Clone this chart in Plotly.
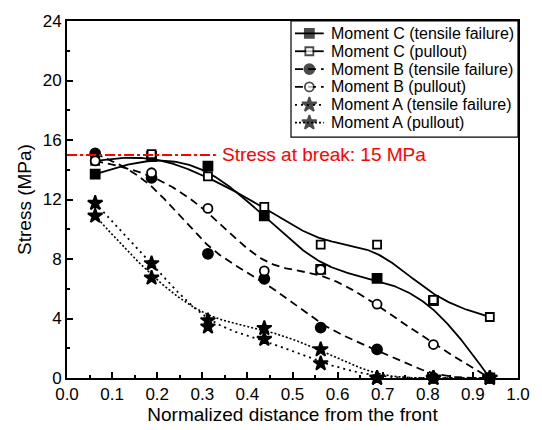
import numpy as np
import plotly.graph_objects as go

# ---- data ----
x_pos = [0.0625, 0.1875, 0.3125, 0.4375, 0.5625, 0.6875, 0.8125, 0.9375]

c_tensile = [13.7, 14.9, 14.25, 10.9, 7.3, 6.7, 5.2, 0.0]
c_pullout = [14.6, 15.05, 13.55, 11.5, 8.96, 8.96, 5.25, 4.1]
b_tensile = [15.1, 13.45, 8.35, 6.67, 3.39, 1.92, 0.0, 0.0]
b_pullout = [14.6, 13.8, 11.4, 7.2, 7.28, 4.96, 2.25, 0.0]
a_tensile = [11.76, 7.7, 3.45, 2.62, 0.98, 0.0, 0.0, 0.0]
a_pullout = [10.9, 6.73, 3.87, 3.35, 1.92, 0.0, 0.0, 0.0]

series_names = ["Moment C (tensile failure)", "Moment C (pullout)",
                "Moment B (tensile failure)", "Moment B (pullout)",
                "Moment A (tensile failure)", "Moment A (pullout)"]
series_values = [c_tensile, c_pullout, b_tensile, b_pullout, a_tensile, a_pullout]

stress_at_break = 15
break_line_end = 0.33
break_label = "Stress at break: 15 MPa"

x_ticks = [0.0, 0.1, 0.2, 0.3, 0.4, 0.5, 0.6, 0.7, 0.8, 0.9, 1.0]
y_ticks = [0, 4, 8, 12, 16, 20, 24]

# ---- styles ----
styles = [
    dict(symbol="square", dash="solid", fill="black", size=9, lw=1.8),
    dict(symbol="square", dash="solid", fill="white", size=8, lw=1.8),
    dict(symbol="circle", dash="8px,5px", fill="black", size=10, lw=1.8),
    dict(symbol="circle", dash="8px,5px", fill="white", size=9, lw=1.8),
    dict(symbol="star", dash="2px,4px", fill="black", size=11, lw=1.8),
    dict(symbol="star", dash="2px,2px", fill="black", size=11, lw=1.6),
]

FONT = "Liberation Sans"

# plot area in pixels (for the overlay used by the legend box)
PL, PR, PT, PB = 67, 522, 14, 380
W, H = 542, 430


def bspline(xs, ys, n=40):
    """Uniform cubic B-spline with clamped ends (Origin-like B-spline connect)."""
    P = np.column_stack([xs, ys]).astype(float)
    P = np.vstack([P[0], P[0], P, P[-1], P[-1]])
    t = np.linspace(0, 1, n)
    b0 = (1 - t) ** 3 / 6
    b1 = (3 * t ** 3 - 6 * t ** 2 + 4) / 6
    b2 = (-3 * t ** 3 + 3 * t ** 2 + 3 * t + 1) / 6
    b3 = t ** 3 / 6
    out = []
    for i in range(len(P) - 3):
        seg = (np.outer(b0, P[i]) + np.outer(b1, P[i + 1]) +
               np.outer(b2, P[i + 2]) + np.outer(b3, P[i + 3]))
        out.append(seg)
    out = np.vstack(out)
    return out[:, 0], out[:, 1]


fig = go.Figure()

for name, vals, st in zip(series_names, series_values, styles):
    sx, sy = bspline(x_pos, vals)
    fig.add_trace(go.Scatter(x=sx, y=sy, mode="lines", showlegend=False, name=name,
                             line=dict(color="black", width=st["lw"], dash=st["dash"]),
                             hoverinfo="skip", cliponaxis=False))
    fig.add_trace(go.Scatter(x=x_pos, y=vals, mode="markers", showlegend=False, name=name,
                             marker=dict(symbol=st["symbol"], size=st["size"], color=st["fill"],
                                         line=dict(color="black", width=1.8)),
                             cliponaxis=False))

# ---- legend box (drawn on a pixel-unit overlay axis) ----
leg_left, leg_top, leg_bottom = 293, PT, 133
row_h = 18.3
row0 = PT + 12.7
samp_x0, samp_x1, text_x = 297, 326, 331

fig.add_shape(type="rect", xref="x2", yref="y2", x0=leg_left, x1=PR, y0=leg_top, y1=leg_bottom,
              line=dict(color="black", width=1.2), fillcolor="white", layer="below")
for i, (name, st) in enumerate(zip(series_names, styles)):
    ry = row0 + i * row_h
    fig.add_trace(go.Scatter(x=[samp_x0, (samp_x0 + samp_x1) / 2, samp_x1], y=[ry, ry, ry],
                             xaxis="x2", yaxis="y2", mode="lines+markers", showlegend=False,
                             line=dict(color="black", width=st["lw"], dash=st["dash"]),
                             marker=dict(symbol=st["symbol"], size=[0, st["size"], 0], color=st["fill"],
                                         line=dict(color="black", width=[0, 1.8, 0])),
                             hoverinfo="skip", cliponaxis=False))
    fig.add_annotation(x=text_x, y=ry, xref="x2", yref="y2", text=name, showarrow=False,
                       xanchor="left", yanchor="middle",
                       font=dict(size=16, color="black", family=FONT))

# ---- stress-at-break reference ----
fig.add_shape(type="line", xref="x", yref="y", x0=0, x1=break_line_end,
              y0=stress_at_break, y1=stress_at_break,
              line=dict(color="red", width=2, dash="10px,3px,3px,3px"))
fig.add_annotation(x=break_line_end, y=stress_at_break, xref="x", yref="y",
                   text=break_label, showarrow=False, xanchor="left", yanchor="middle",
                   xshift=4, font=dict(color="red", size=19, family=FONT))

axis_common = dict(showline=True, linecolor="black", linewidth=2, mirror=True,
                   ticks="inside", ticklen=6, tickwidth=1.8, tickcolor="black",
                   showgrid=False, zeroline=False,
                   tickfont=dict(size=17, color="black", family=FONT))

fig.update_layout(
    xaxis=dict(range=[0, 1], tickvals=x_ticks, ticktext=[f"{v:.1f}" for v in x_ticks],
               minor=dict(ticks="inside", ticklen=3, tickwidth=1.5, tickcolor="black", dtick=0.05),
               ticklabelstandoff=0,
               title=dict(text="Normalized distance from the front", standoff=0,
                          font=dict(size=19, color="black", family=FONT)),
               **axis_common),
    yaxis=dict(range=[0, 24], tickvals=y_ticks,
               minor=dict(ticks="inside", ticklen=3, tickwidth=1.5, tickcolor="black", dtick=2),
               title=dict(text="Stress (MPa)", standoff=6,
                          font=dict(size=19, color="black", family=FONT)),
               **axis_common),
    xaxis2=dict(overlaying="x", range=[PL, PR], visible=False, fixedrange=True),
    yaxis2=dict(overlaying="y", range=[PB, PT], visible=False, fixedrange=True),
    width=W, height=H,
    margin=dict(l=PL, r=W - PR, t=PT, b=H - PB),
    paper_bgcolor="white", plot_bgcolor="white",
    font=dict(family=FONT, color="black"),
    showlegend=False,
)

fig.write_html("out.html")
